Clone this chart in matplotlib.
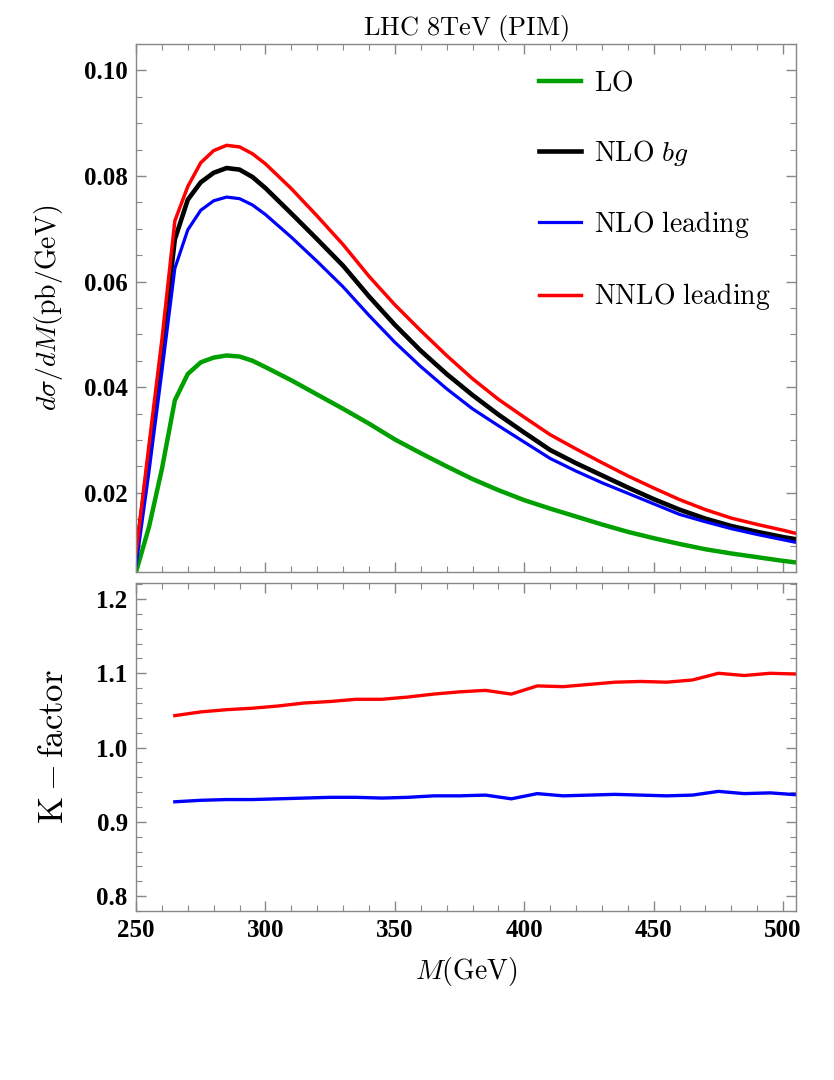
import matplotlib.pyplot as plt
from matplotlib.lines import Line2D
from matplotlib.ticker import MultipleLocator

plt.rcParams['mathtext.fontset'] = 'cm'

# invariant mass grid (GeV) for the distributions
mass = [250, 255, 260, 265, 270, 275, 280, 285, 290, 295, 300, 310, 320, 330, 340, 350,
        360, 370, 380, 390, 400, 410, 420, 430, 440, 450, 460, 470, 480, 490, 500, 505]

# d sigma / dM (pb/GeV)
lo = [0.0050, 0.0135, 0.0245, 0.0375, 0.0425, 0.0447, 0.0456, 0.0460, 0.0458, 0.0450, 0.0438,
      0.0413, 0.0386, 0.0359, 0.0331, 0.0301, 0.0275, 0.0250, 0.0226, 0.0205, 0.0186,
      0.0170, 0.0155, 0.0140, 0.0126, 0.0114, 0.0103, 0.0093, 0.0085, 0.0078, 0.0071, 0.0068]
nlo_bg = [0.0080, 0.0270, 0.0470, 0.0680, 0.0755, 0.0788, 0.0806, 0.0815, 0.0812, 0.0798, 0.0777,
          0.0729, 0.0680, 0.0630, 0.0572, 0.0518, 0.0469, 0.0425, 0.0385, 0.0348, 0.0314,
          0.0281, 0.0256, 0.0233, 0.0210, 0.0188, 0.0168, 0.0151, 0.0137, 0.0126, 0.0116, 0.0112]
nlo_lead = [0.0062, 0.0240, 0.0430, 0.0625, 0.0698, 0.0735, 0.0753, 0.0760, 0.0757, 0.0745, 0.0727,
            0.0684, 0.0638, 0.0590, 0.0536, 0.0485, 0.0439, 0.0397, 0.0359, 0.0327, 0.0296,
            0.0265, 0.0241, 0.0219, 0.0199, 0.0179, 0.0159, 0.0145, 0.0132, 0.0121, 0.0111, 0.0106]
nnlo_lead = [0.0086, 0.0290, 0.0490, 0.0715, 0.0780, 0.0825, 0.0848, 0.0858, 0.0855, 0.0842, 0.0823,
             0.0776, 0.0724, 0.0670, 0.0610, 0.0556, 0.0507, 0.0460, 0.0416, 0.0377, 0.0343,
             0.0310, 0.0283, 0.0257, 0.0232, 0.0209, 0.0187, 0.0168, 0.0152, 0.0140, 0.0129, 0.0123]

# K-factors
mass_k = [265, 275, 285, 295, 305, 315, 325, 335, 345, 355, 365, 375, 385, 395, 405,
          415, 425, 435, 445, 455, 465, 475, 485, 495, 505]
k_nlo = [0.927, 0.929, 0.930, 0.930, 0.931, 0.932, 0.933, 0.933, 0.932, 0.933, 0.935,
         0.935, 0.936, 0.931, 0.938, 0.935, 0.936, 0.937, 0.936, 0.935, 0.936, 0.941,
         0.938, 0.939, 0.9365]
k_nnlo = [1.043, 1.048, 1.051, 1.053, 1.056, 1.060, 1.062, 1.065, 1.065, 1.068, 1.072,
          1.075, 1.077, 1.072, 1.083, 1.082, 1.085, 1.088, 1.089, 1.088, 1.091, 1.100,
          1.097, 1.100, 1.099]

GREEN = '#00a000'
FRAME = '#888888'

fig = plt.figure(figsize=(8.34, 10.8), dpi=100)
ax1 = fig.add_axes([0.1631, 0.4704, 0.7914, 0.4889])
ax2 = fig.add_axes([0.1631, 0.1565, 0.7914, 0.3040])

ax1.plot(mass, lo, color=GREEN, lw=3.2)
ax1.plot(mass, nlo_bg, color='black', lw=3.3)
ax1.plot(mass, nlo_lead, color='blue', lw=2.3)
ax1.plot(mass, nnlo_lead, color='red', lw=2.5)

ax2.plot(mass_k, k_nnlo, color='red', lw=2.4)
ax2.plot(mass_k, k_nlo, color='blue', lw=2.4)

ax1.set_xlim(250, 505)
ax1.set_ylim(0.005, 0.105)
ax2.set_xlim(250, 505)
ax2.set_ylim(0.78, 1.222)

for ax in (ax1, ax2):
    for s in ax.spines.values():
        s.set_color(FRAME)
        s.set_linewidth(1.0)
    ax.xaxis.set_major_locator(MultipleLocator(50))
    ax.xaxis.set_minor_locator(MultipleLocator(10))
    ax.tick_params(which='both', direction='in', top=True, right=True, color=FRAME,
                   labelsize=18, pad=6)
    ax.tick_params(which='major', length=7, width=1.0)
    ax.tick_params(which='minor', length=4, width=0.8)

ax1.yaxis.set_major_locator(MultipleLocator(0.02))
ax1.yaxis.set_minor_locator(MultipleLocator(0.005))
ax1.yaxis.set_major_formatter(plt.FuncFormatter(lambda v, p: f'{v:.2f}'))
ax1.tick_params(labelbottom=False)

ax2.yaxis.set_major_locator(MultipleLocator(0.1))
ax2.yaxis.set_minor_locator(MultipleLocator(0.02))
ax2.yaxis.set_major_formatter(plt.FuncFormatter(lambda v, p: f'{v:.1f}'))

for ax in (ax1, ax2):
    for lab in ax.get_xticklabels() + ax.get_yticklabels():
        lab.set_fontfamily('Liberation Serif')
        lab.set_fontweight('bold')

ax1.set_title(r'$\mathrm{LHC\ 8TeV\ (PIM)}$', fontsize=19, pad=6)
ax1.set_ylabel(r'$d\sigma/dM(\mathrm{pb/GeV})$', fontsize=20)
ax1.yaxis.set_label_coords(-0.108, 0.5)
ax2.set_ylabel(r'$\mathrm{K}-\mathrm{factor}$', fontsize=25)
ax2.yaxis.set_label_coords(-0.100, 0.5)
ax2.set_xlabel(r'$M(\mathrm{GeV})$', fontsize=20)
ax2.xaxis.set_label_coords(0.5, -0.135)

handles = [Line2D([], [], color=GREEN, lw=3.2),
           Line2D([], [], color='black', lw=3.3),
           Line2D([], [], color='blue', lw=2.3),
           Line2D([], [], color='red', lw=2.5)]
labels = [r'$\mathrm{LO}$', r'$\mathrm{NLO}\ bg$', r'$\mathrm{NLO\ leading}$',
          r'$\mathrm{NNLO\ leading}$']
ax1.legend(handles, labels, loc='upper left', bbox_to_anchor=(0.6463, 0.9362),
           bbox_transform=fig.transFigure, frameon=False, fontsize=20,
           borderpad=0, borderaxespad=0, handlelength=1.5, handletextpad=0.47,
           labelspacing=1.48)

fig.savefig('out.png', dpi=100)
